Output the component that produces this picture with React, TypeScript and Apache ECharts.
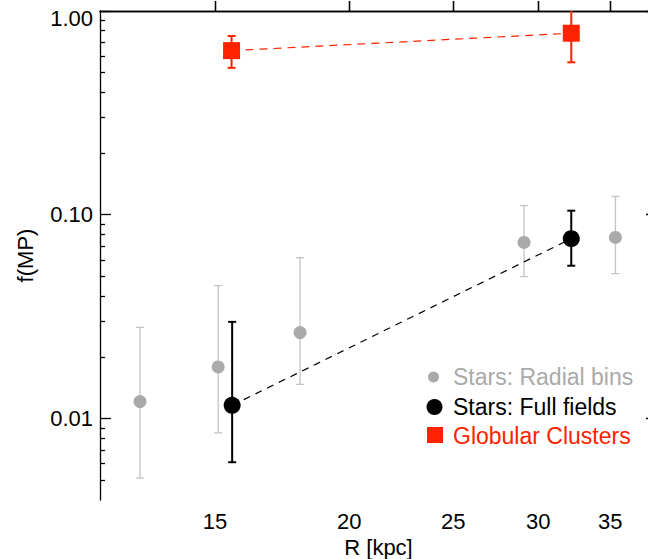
import React, { useEffect, useRef } from "react";
import * as echarts from "echarts";

// ---- data ----
const radialR = [12.77, 15.1, 18.0, 29.1, 35.4];
const radialF = [0.0121, 0.0179, 0.0264, 0.0731, 0.0774];
const radialLo = [0.0051, 0.0085, 0.0147, 0.0497, 0.0514];
const radialHi = [0.028, 0.0449, 0.0615, 0.111, 0.123];

const fullR = [15.56, 32.2];
const fullF = [0.0116, 0.0763];
const fullLo = [0.0061, 0.0562];
const fullHi = [0.0298, 0.1047];

const gcR = [15.54, 32.2];
const gcF = [0.639, 0.778];
const gcLo = [0.526, 0.56];
const gcHi = [0.754, 1.1];

const xTicks = [15, 20, 25, 30, 35];
const yMajorTicks = [0.01, 0.1, 1];
const yMinorTicks = [
  0.005, 0.006, 0.007, 0.008, 0.009,
  0.02, 0.03, 0.04, 0.05, 0.06, 0.07, 0.08, 0.09,
  0.2, 0.3, 0.4, 0.5, 0.6, 0.7, 0.8, 0.9,
];
const xRange = [11.72, 38.7];
const yRange = [0.00398, 1.0];

const legendNames = ["Stars: Radial bins", "Stars: Full fields", "Globular Clusters"];

const L = Math.log10;
const FONT = "'Liberation Sans', Arial, Helvetica, sans-serif";
const RED = "#ff2200";
const GRAY = "#aaaaaa";
const GRAY_ERR = "#c4c4c4";

function pts(xs: number[], ys: number[]) {
  return xs.map((x, i) => [L(x), L(ys[i])]);
}
function errs(xs: number[], lo: number[], hi: number[]) {
  return xs.map((x, i) => [L(x), L(lo[i]), L(hi[i])]);
}
function errSeries(data: number[][], color: string, width: number, cap: number, z: number) {
  return {
    type: "custom",
    xAxisIndex: 0,
    yAxisIndex: 0,
    clip: true,
    z,
    silent: true,
    encode: { x: 0, y: [1, 2] },
    data,
    renderItem: (params: any, api: any) => {
      const x = api.value(0);
      const lo = api.coord([x, api.value(1)]);
      const hi = api.coord([x, api.value(2)]);
      const style = { stroke: color, lineWidth: width };
      return {
        type: "group",
        children: [
          { type: "line", shape: { x1: lo[0], y1: lo[1], x2: hi[0], y2: hi[1] }, style },
          { type: "line", shape: { x1: lo[0] - cap, y1: lo[1], x2: lo[0] + cap, y2: lo[1] }, style },
          { type: "line", shape: { x1: hi[0] - cap, y1: hi[1], x2: hi[0] + cap, y2: hi[1] }, style },
        ],
      };
    },
  };
}

export default function App() {
  const ref = useRef<HTMLDivElement>(null);
  useEffect(() => {
    if (!ref.current) return;
    const chart = echarts.init(ref.current, undefined, { renderer: "svg" });
    const axisLineStyle = { color: "#000", width: 1.3 };
    const xTickVals = xTicks.map(L);
    const yMajVals = yMajorTicks.map(L);
    const yMinVals = yMinorTicks.map(L);
    const xMin = L(xRange[0]);
    const xMax = L(xRange[1]);
    const yMin = L(yRange[0]);
    const yMax = L(yRange[1]);
    const labelStyle = { fontSize: 22, color: "#000", fontFamily: FONT };

    const xBase = (pos: string, inside: boolean) => ({
      type: "value",
      position: pos,
      min: xMin,
      max: xMax,
      splitLine: { show: false },
      axisLine: { show: true, lineStyle: axisLineStyle },
      axisTick: { show: true, inside, length: 10, customValues: xTickVals, lineStyle: axisLineStyle },
    });
    const yMajor = (pos: string) => ({
      type: "value",
      position: pos,
      min: yMin,
      max: yMax,
      splitLine: { show: false },
      axisLine: { show: true, lineStyle: axisLineStyle },
      axisTick: { show: true, inside: true, length: 11, customValues: yMajVals, lineStyle: axisLineStyle },
    });
    const yMinor = (pos: string) => ({
      type: "value",
      position: pos,
      min: yMin,
      max: yMax,
      splitLine: { show: false },
      axisLine: { show: false },
      axisLabel: { show: false },
      axisTick: { show: true, inside: true, length: 5, customValues: yMinVals, lineStyle: axisLineStyle },
    });

    const option: any = {
      animation: false,
      backgroundColor: "#fff",
      grid: { left: 100, top: 11, width: 557, height: 489, containLabel: false, outerBoundsMode: "none" },
      xAxis: [
        {
          ...xBase("bottom", true),
          axisLabel: {
            ...labelStyle,
            customValues: xTickVals,
            margin: 10,
            formatter: (v: number) => String(Math.round(Math.pow(10, v))),
          },
          name: "R [kpc]",
          nameLocation: "middle",
          nameGap: 32,
          nameTextStyle: { ...labelStyle },
        },
        { ...xBase("top", false), axisLabel: { show: false } },
      ],
      yAxis: [
        {
          ...yMajor("left"),
          axisLabel: {
            ...labelStyle,
            customValues: yMajVals,
            margin: 7,
            formatter: (v: number) =>
              Math.abs(v) < 1e-9 ? "{t|1.00}" : Math.pow(10, v).toFixed(2),
            rich: { t: { ...labelStyle, padding: [14, 0, 0, 0] } },
          },
          name: "f(MP)",
          nameLocation: "middle",
          nameGap: 64,
          nameTextStyle: { ...labelStyle },
        },
        yMinor("left"),
        { ...yMajor("right"), axisLabel: { show: false } },
        yMinor("right"),
      ],
      series: [
        errSeries(errs(radialR, radialLo, radialHi), GRAY_ERR, 1.3, 4, 2),
        {
          name: legendNames[0],
          type: "scatter",
          symbol: "circle",
          symbolSize: 13,
          itemStyle: { color: GRAY, opacity: 1 },
          data: pts(radialR, radialF),
          z: 3,
          silent: true,
        },
        {
          type: "line",
          data: pts(fullR, fullF),
          symbol: "none",
          lineStyle: { color: "#000", width: 1.2, type: [7, 6] },
          z: 2,
          silent: true,
        },
        errSeries(errs(fullR, fullLo, fullHi), "#000", 2, 4, 4),
        {
          name: legendNames[1],
          type: "scatter",
          symbol: "circle",
          symbolSize: 17,
          itemStyle: { color: "#000", opacity: 1 },
          data: pts(fullR, fullF),
          z: 5,
          silent: true,
        },
        {
          type: "line",
          data: pts(gcR, gcF),
          symbol: "none",
          lineStyle: { color: RED, width: 1.2, type: [8, 6] },
          z: 2,
          silent: true,
        },
        errSeries(errs(gcR, gcLo, gcHi), RED, 2, 4, 4),
        {
          name: legendNames[2],
          type: "scatter",
          symbol: "rect",
          symbolSize: 17,
          itemStyle: { color: RED, opacity: 1 },
          data: pts(gcR, gcF),
          z: 5,
          silent: true,
        },
      ],
      graphic: [
        { type: "circle", shape: { cx: 433.5, cy: 377, r: 5.5 }, style: { fill: GRAY } },
        { type: "circle", shape: { cx: 434.5, cy: 407, r: 8 }, style: { fill: "#000" } },
        { type: "rect", shape: { x: 427, y: 427, width: 16, height: 16 }, style: { fill: RED } },
        {
          type: "text",
          x: 453,
          y: 377,
          style: { text: legendNames[0], fill: GRAY, font: `23px ${FONT}`, textAlign: "left", textVerticalAlign: "middle", align: "left", verticalAlign: "middle" },
        },
        {
          type: "text",
          x: 453,
          y: 407,
          style: { text: legendNames[1], fill: "#000", font: `23px ${FONT}`, textAlign: "left", textVerticalAlign: "middle", align: "left", verticalAlign: "middle" },
        },
        {
          type: "text",
          x: 453,
          y: 436,
          style: { text: legendNames[2], fill: RED, font: `23px ${FONT}`, textAlign: "left", textVerticalAlign: "middle", align: "left", verticalAlign: "middle" },
        },
      ],
    };
    chart.setOption(option);
    return () => chart.dispose();
  }, []);
  return (
    <div
      ref={ref}
      style={{ position: "fixed", left: 0, top: 0, width: 648, height: 559, background: "#fff" }}
    />
  );
}
